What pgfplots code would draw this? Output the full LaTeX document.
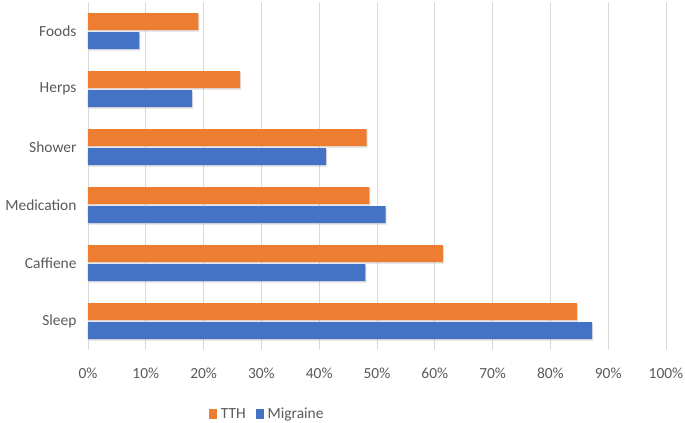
\documentclass[border=0pt]{standalone}
\usepackage{fontspec}
\setmainfont{Carlito}
\usepackage{pgfplots}
\usetikzlibrary{shadows}
\pgfplotsset{compat=1.18}
\definecolor{tth}{HTML}{ED7D31}
\definecolor{mig}{HTML}{4472C4}
\definecolor{txt}{HTML}{595959}
\definecolor{grd}{HTML}{D9D9D9}
\begin{document}
\begin{tikzpicture}
\path[use as bounding box] (-88bp,-73bp) rectangle (597bp,350bp);
\begin{axis}[
  at={(0,0)}, anchor=south west,
  scale only axis, width=578bp, height=348bp,
  xbar, bar width=17bp,
  xmin=0, xmax=100, ymin=-0.5, ymax=5.5,
  xtick={0,10,...,100},
  xticklabel={\pgfmathprintnumber{\tick}\%},
  /pgf/number format/assume math mode=true,
  ytick={0,1,2,3,4,5},
  yticklabels={Sleep,Caffiene,Medication,Shower,Herps,Foods},
  xmajorgrids, grid style={grd, line width=0.8pt},
  axis line style={draw=none},
  axis x line*=bottom, axis y line*=left,
  major tick length=0pt,
  tick label style={font=\fontsize{15.5}{18}\selectfont, text=txt},
  xticklabel style={yshift=-14bp},
  yticklabel style={xshift=-8bp},
  legend style={at={(0.31,-0.155)}, anchor=north, draw=none, legend columns=2,
    font=\fontsize{15.5}{18}\selectfont, text=txt,
    /tikz/every odd column/.append style={column sep=2bp},
    /tikz/every even column/.append style={column sep=8bp}},
  legend image code/.code={\fill[#1] (0bp,-5bp) rectangle (8bp,5bp);},
]
\addlegendimage{fill=tth, draw=none}
\addlegendimage{fill=mig, draw=none}
\addplot[forget plot, fill=tth, draw=none, bar shift=9.5bp, drop shadow={opacity=0.25, shadow xshift=1bp, shadow yshift=-1.5bp}] coordinates {(84.6,0) (61.4,1) (48.7,2) (48.2,3) (26.3,4) (19.1,5)};
\addplot[forget plot, fill=mig, draw=none, bar shift=-9.5bp, drop shadow={opacity=0.25, shadow xshift=1bp, shadow yshift=-1.5bp}] coordinates {(87.2,0) (48.0,1) (51.5,2) (41.2,3) (18.0,4) (8.9,5)};
\legend{TTH, Migraine}
\end{axis}
\end{tikzpicture}
\end{document}
